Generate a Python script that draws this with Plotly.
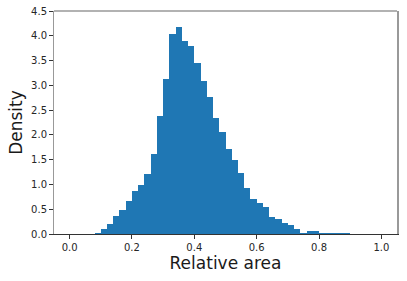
import plotly.graph_objects as go

# Histogram bins: left edges 0.00 .. 0.98, width 0.02
bin_width = 0.02
bin_left = [round(i * bin_width, 2) for i in range(50)]
density = [
    0.0, 0.0, 0.0, 0.0, 0.015, 0.11, 0.20, 0.36, 0.48, 0.67,   # 0.00-0.20
    0.87, 0.98, 1.22, 1.61, 2.38, 3.13, 4.04, 4.18, 3.89, 3.80,  # 0.20-0.40
    3.46, 3.09, 2.76, 2.34, 2.05, 1.71, 1.49, 1.24, 0.93, 0.71,  # 0.40-0.60
    0.63, 0.54, 0.35, 0.30, 0.22, 0.19, 0.11, 0.03, 0.06, 0.06,  # 0.60-0.80
    0.013, 0.013, 0.013, 0.013, 0.013, 0.0, 0.0, 0.0, 0.0, 0.0,  # 0.80-1.00
]
x_ticks = [0.0, 0.2, 0.4, 0.6, 0.8, 1.0]
y_ticks = [0.0, 0.5, 1.0, 1.5, 2.0, 2.5, 3.0, 3.5, 4.0, 4.5]

centers = [b + bin_width / 2 for b in bin_left]

fig = go.Figure(go.Bar(
    x=centers, y=density, width=bin_width,
    marker=dict(color="#1f77b4", line=dict(width=0)),
    hoverinfo="skip",
))

font = "DejaVu Sans"
fig.update_layout(
    width=407, height=281,
    margin=dict(l=54, r=10, t=11, b=47, autoexpand=False),
    paper_bgcolor="white", plot_bgcolor="white",
    showlegend=False, bargap=0,
    font=dict(family=font, size=10, color="#262626"),
    xaxis=dict(
        range=[-0.05, 1.05], tickvals=x_ticks, automargin=False,
        ticktext=[f"{v:.1f}" for v in x_ticks],
        showgrid=False, zeroline=False,
        showline=True, linecolor="#333333", linewidth=1,
        ticks="outside", ticklen=3.5, tickcolor="#333333", tickwidth=1,
        title=dict(text="Relative area", font=dict(family=font, size=17, color="#1a1a1a"), standoff=5),
    ),
    yaxis=dict(
        range=[0, 4.5], tickvals=y_ticks, automargin=False,
        ticktext=[f"{v:.1f}" for v in y_ticks],
        showgrid=False, zeroline=False,
        showline=True, linecolor="#999999", linewidth=1.5, mirror=True,
        ticks="outside", ticklen=3.5, tickcolor="#333333", tickwidth=1,
        title=dict(text="Density", font=dict(family=font, size=17, color="#1a1a1a"), standoff=4),
    ),
    shapes=[dict(type="line", xref="paper", yref="paper", x0=0, x1=1, y0=1, y1=1,
                 line=dict(color="#999999", width=1.5))],
)

fig.write_html(
    "out.html",
    config={"displayModeBar": False, "staticPlot": True},
    post_script="document.body.style.margin='0';document.body.style.padding='0';",
)
